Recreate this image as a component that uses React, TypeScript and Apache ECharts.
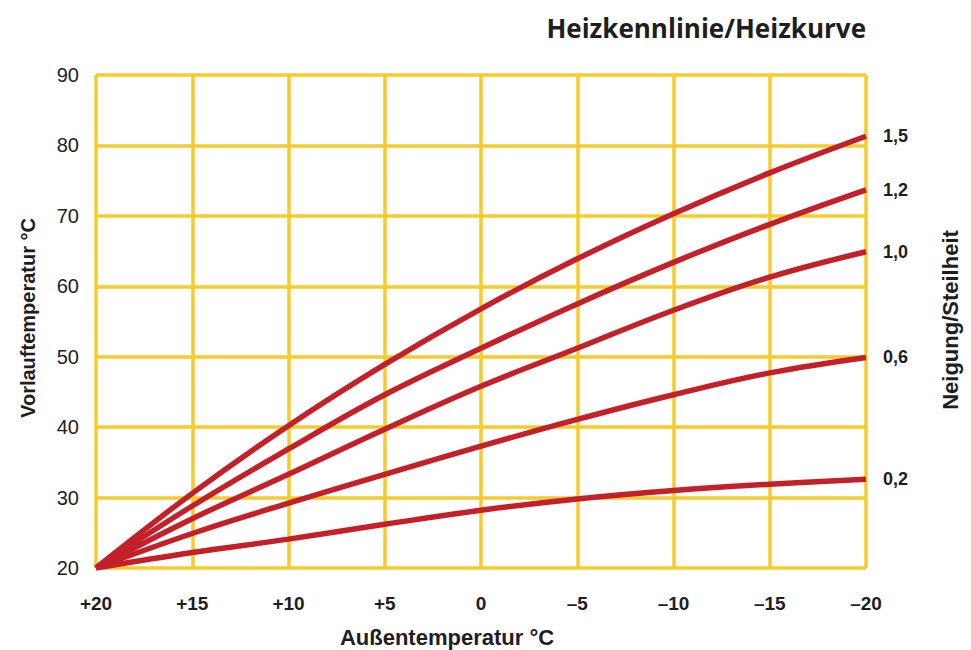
import React, { useEffect, useRef } from "react";
import * as echarts from "echarts";

const outdoorTemps = [20, 15, 10, 5, 0, -5, -10, -15, -20];
const xTickLabels: Record<string, string> = {
  "20": "+20", "15": "+15", "10": "+10", "5": "+5", "0": "0",
  "-5": "–5", "-10": "–10", "-15": "–15", "-20": "–20",
};
const curve15 = [20, 30.6, 40.2, 48.9, 56.8, 63.9, 70.3, 76.1, 81.3];
const curve12 = [20, 28.8, 36.9, 44.6, 51.2, 57.5, 63.4, 68.8, 73.7];
const curve10 = [20, 27.0, 33.3, 39.7, 45.8, 51.2, 56.6, 61.3, 64.9];
const curve06 = [20, 24.9, 29.2, 33.3, 37.3, 41.1, 44.6, 47.7, 49.9];
const curve02 = [20, 22.2, 24.1, 26.2, 28.2, 29.8, 31.0, 31.9, 32.6];
const curveNames = ["1,5", "1,2", "1,0", "0,6", "0,2"];
const curves = [curve15, curve12, curve10, curve06, curve02];

const YELLOW = "#F5CC2C";
const RED = "#C3202A";
const INK = "#1e1e1e";
const BOLD_FONT = "Liberation Sans, Arial, sans-serif";

export default function App() {
  const ref = useRef<HTMLDivElement>(null);
  useEffect(() => {
    if (!ref.current) return;
    const chart = echarts.init(ref.current, undefined, { renderer: "svg" });
    chart.setOption({
      animation: false,
      backgroundColor: "#ffffff",
      grid: { left: 96, right: 105, top: 75, bottom: 82, containLabel: false },
      xAxis: {
        type: "value",
        min: -20,
        max: 20,
        interval: 5,
        inverse: true,
        axisLine: { show: false },
        axisTick: { show: false },
        splitLine: { show: true, lineStyle: { color: YELLOW, width: 3.5 } },
        axisLabel: {
          margin: 26,
          fontFamily: BOLD_FONT,
          fontWeight: "bold",
          fontSize: 19,
          color: INK,
          formatter: (v: number) => xTickLabels[String(v)] ?? String(v),
        },
      },
      yAxis: {
        type: "value",
        min: 20,
        max: 90,
        interval: 10,
        axisLine: { show: false, onZero: false },
        axisTick: { show: false },
        splitLine: { show: true, lineStyle: { color: YELLOW, width: 3.5 } },
        axisLabel: {
          margin: 17,
          fontFamily: "Liberation Sans, Arial, sans-serif",
          fontSize: 20,
          color: "#222",
        },
      },
      graphic: [
        {
          type: "text",
          x: 866,
          y: 28,
          style: {
            text: "Heizkennlinie/Heizkurve",
            fontFamily: "Open Sans, Noto Sans, sans-serif",
            fontWeight: "bold",
            fontSize: 26,
            fill: INK,
            align: "right",
            verticalAlign: "middle",
          },
        },
        {
          type: "text",
          x: 447,
          y: 637,
          style: {
            text: "Außentemperatur °C",
            fontFamily: BOLD_FONT,
            fontWeight: "bold",
            fontSize: 22,
            fill: INK,
            align: "center",
            verticalAlign: "middle",
          },
        },
        {
          type: "text",
          x: 28,
          y: 318,
          rotation: Math.PI / 2,
          style: {
            text: "Vorlauftemperatur °C",
            fontFamily: BOLD_FONT,
            fontWeight: "bold",
            fontSize: 20,
            fill: INK,
            align: "center",
            verticalAlign: "middle",
          },
        },
        {
          type: "text",
          x: 950,
          y: 320,
          rotation: Math.PI / 2,
          style: {
            text: "Neigung/Steilheit",
            fontFamily: BOLD_FONT,
            fontWeight: "bold",
            fontSize: 22,
            fill: INK,
            align: "center",
            verticalAlign: "middle",
          },
        },
      ],
      series: curves.map((c, i) => ({
        type: "line",
        name: curveNames[i],
        data: outdoorTemps.map((t, j) => {
          const last = j === outdoorTemps.length - 1;
          return {
            value: [t, c[j]],
            label: last
              ? {
                  show: true,
                  position: "right",
                  distance: 17,
                  formatter: curveNames[i],
                  fontFamily: BOLD_FONT,
                  fontWeight: "bold",
                  fontSize: 18,
                  color: INK,
                }
              : { show: false },
          };
        }),
        smooth: 0.4,
        symbol: "circle",
        symbolSize: 0,
        showSymbol: true,
        showAllSymbol: true,
        lineStyle: { color: RED, width: 5.5 },
        itemStyle: { color: RED },
      })),
    });
    return () => chart.dispose();
  }, []);
  return (
    <div
      ref={ref}
      style={{ position: "fixed", left: 0, top: 0, width: 971, height: 650 }}
    />
  );
}
